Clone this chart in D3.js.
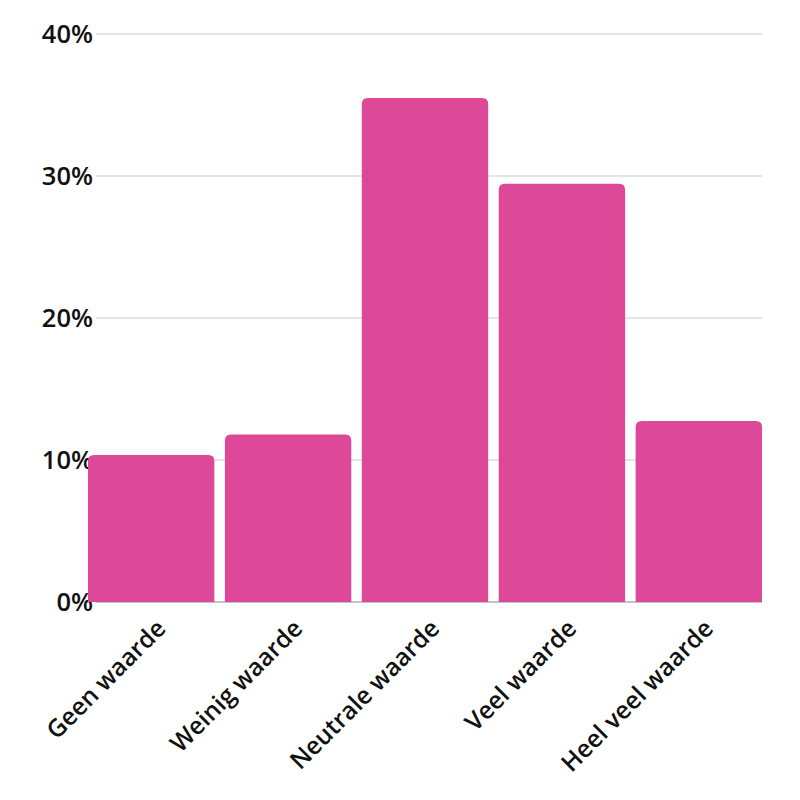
<!DOCTYPE html>
<html><head><meta charset="utf-8">
<script src="https://cdn.jsdelivr.net/npm/d3@7"></script>
<style>body{margin:0;background:#fff}svg{display:block}</style>
</head><body>
<script>
const categories = ["Geen waarde","Weinig waarde","Neutrale waarde","Veel waarde","Heel veel waarde"];
const values = [10.35, 11.8, 35.5, 29.45, 12.75];
const yTicks = [0, 10, 20, 30, 40];

const W = 800, H = 800;
const m = {left: 88, right: 38, top: 34, bottom: 198};
const svg = d3.select("body").append("svg").attr("width", W).attr("height", H);
const x = d3.scaleBand().domain(categories).range([m.left, W - m.right]).paddingInner(0.077).paddingOuter(0);
const y = d3.scaleLinear().domain([0, 40]).range([H - m.bottom, m.top]);
const font = "'Open Sans', sans-serif";

// grid
svg.append("g").selectAll("line").data(yTicks).join("line")
  .attr("x1", 96).attr("x2", W - m.right)
  .attr("y1", d => y(d)).attr("y2", d => y(d))
  .attr("stroke", d => d === 0 ? "#b0b0b0" : "#dcdcdc").attr("stroke-width", 1.3);

// y labels
svg.append("g").selectAll("text").data(yTicks).join("text")
  .attr("x", 93).attr("y", d => y(d)).attr("dy", "0.36em")
  .attr("text-anchor", "end").attr("font-family", font).attr("font-weight", 600)
  .attr("font-size", 25.5).attr("fill", "#111").text(d => d + "%");

// bars with rounded top corners
const r = 6;
svg.append("g").selectAll("path").data(values).join("path")
  .attr("fill", "#dd4898")
  .attr("d", (d, i) => {
    const x0 = x(categories[i]), w = x.bandwidth(), y0 = y(d), yb = y(0);
    return `M${x0},${yb}V${y0 + r}Q${x0},${y0} ${x0 + r},${y0}H${x0 + w - r}Q${x0 + w},${y0} ${x0 + w},${y0 + r}V${yb}Z`;
  });

// x labels
svg.append("g").selectAll("text").data(categories).join("text")
  .attr("transform", d => `translate(${x(d) + x.bandwidth() / 2 + 16},${y(0) + 28}) rotate(-45)`)
  .attr("text-anchor", "end").attr("font-family", font).attr("font-weight", 600)
  .attr("font-size", 24.5).attr("fill", "#111").text(d => d);
</script>
</body></html>
